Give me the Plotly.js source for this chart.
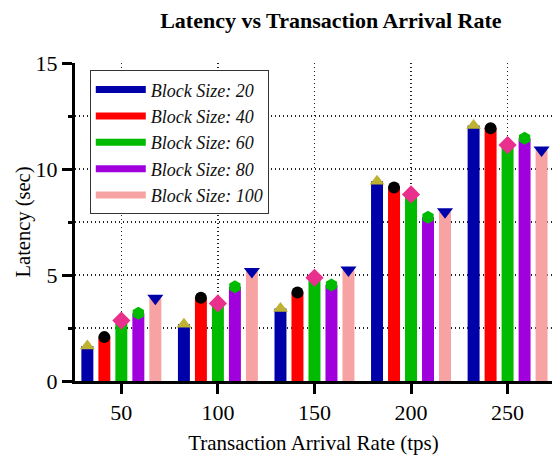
<!DOCTYPE html>
<html>
<head>
<meta charset="utf-8">
<script src="https://cdn.plot.ly/plotly-3.0.1.min.js"></script>
<style>html,body{margin:0;padding:0;background:#fff;}#chart{width:557px;height:455px;}</style>
</head>
<body>
<div id="chart"></div>
<script>
// ---- data ----
const arrivalRates = [50, 100, 150, 200, 250];
const seriesNames = ["Block Size: 20", "Block Size: 40", "Block Size: 60", "Block Size: 80", "Block Size: 100"];
const bs20  = [1.65, 2.68, 3.42, 9.42, 12.05];
const bs40  = [2.07, 3.93, 4.17, 9.13, 11.92];
const bs60  = [2.85, 3.66, 4.87, 8.80, 11.13];
const bs80  = [3.20, 4.45, 4.53, 7.72, 11.45];
const bs100 = [3.90, 5.17, 5.24, 7.98, 10.90];
const yTickVals = [0, 5, 10, 15];

// ---- styles ----
const seriesValues = [bs20, bs40, bs60, bs80, bs100];
const barColors = ["#0000a8", "#ff0000", "#00bb00", "#a000dc", "#f7a3a3"];
const markerSymbols = ["triangle-up", "circle", "diamond", "hexagon", "triangle-down"];
const markerColors = ["#beb232", "#000000", "#e8308c", "#00bb00", "#0000a8"];
const markerSizes = [13, 12, 14, 13, 14];
const slot = 8.8;   // x-units between neighbouring bars in a group
const barW = 6.2;   // bar width in x-units
const serif = "Liberation Serif";

const traces = [];
seriesValues.forEach((vals, i) => {
  const off = (i - 2) * slot;
  traces.push({
    type: "bar", x: arrivalRates, y: vals,
    offset: off - barW / 2, width: barW,
    marker: {color: barColors[i], line: {width: 0}},
    showlegend: false, hoverinfo: "skip"
  });
});
seriesValues.forEach((vals, i) => {
  const off = (i - 2) * slot;
  traces.push({
    type: "scatter", mode: "markers",
    x: arrivalRates.map(v => v + off), y: vals,
    marker: {symbol: markerSymbols[i], color: markerColors[i], size: markerSizes[i], line: {width: 0}},
    showlegend: false, cliponaxis: false
  });
});
seriesNames.forEach((name, i) => {
  traces.push({
    type: "scatter", mode: "lines", x: [null], y: [null], name: name,
    line: {color: barColors[i], width: 7}, showlegend: true
  });
});

const gridStyle = {showgrid: true, gridcolor: "#222", gridwidth: 1.3, griddash: "1.3px,2.7px"};

const layout = {
  width: 557, height: 455,
  margin: {l: 75, r: 5, t: 63, b: 74},
  paper_bgcolor: "#fff", plot_bgcolor: "#fff",
  font: {family: serif, color: "#000"},
  title: {text: "<b>Latency vs Transaction Arrival Rate</b>", font: {family: serif, size: 22, color: "#000"},
          x: 0.594, xref: "container", xanchor: "center", y: 0.956, yref: "container", yanchor: "middle"},
  xaxis: Object.assign({
    range: [26, 273], tickmode: "array", tickvals: arrivalRates,
    ticks: "outside", ticklen: 10, tickwidth: 3, tickcolor: "#000",
    showline: true, linewidth: 3, linecolor: "#000", zeroline: false,
    tickfont: {family: serif, size: 22, color: "#000"},
    title: {text: "Transaction Arrival Rate (tps)", font: {family: serif, size: 21, color: "#000"}, standoff: 11}
  }, gridStyle),
  yaxis: Object.assign({
    range: [0, 15], tickmode: "array", tickvals: yTickVals,
    ticks: "outside", ticklen: 10, tickwidth: 3, tickcolor: "#000",
    showline: true, linewidth: 3, linecolor: "#000", zeroline: false,
    tickfont: {family: serif, size: 22, color: "#000"},
    minor: {dtick: 2.5, tick0: 0, ticks: "outside", ticklen: 4, tickwidth: 3, tickcolor: "#000",
            showgrid: true, gridcolor: "#222", gridwidth: 1.3, griddash: "1.3px,2.7px"},
    title: {text: "Latency (sec)", font: {family: serif, size: 20.5, color: "#000"}, standoff: 0}
  }, gridStyle),
  legend: {
    x: 0.031, y: 0.977, xanchor: "left", yanchor: "top",
    bgcolor: "#fff", bordercolor: "#333", borderwidth: 1,
    font: {family: serif, size: 18, color: "#111", style: "italic"},
    itemwidth: 50, traceorder: "normal"
  },
  showlegend: true
};

Plotly.newPlot("chart", traces, layout, {displayModeBar: false, staticPlot: true});
</script>
</body>
</html>
